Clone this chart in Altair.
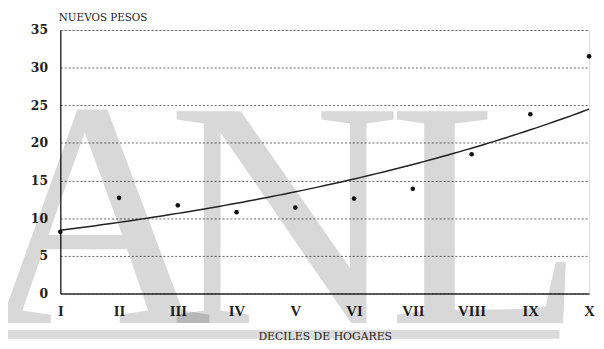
import altair as alt
import numpy as np
import pandas as pd

# Data
deciles = [1, 2, 3, 4, 5, 6, 7, 8, 9, 10]
decile_labels = ["I", "II", "III", "IV", "V", "VI", "VII", "VIII", "IX", "X"]
values = [8.2, 12.7, 11.7, 10.8, 11.4, 12.6, 13.9, 18.5, 23.8, 31.5]
y_ticks = [0, 5, 10, 15, 20, 25, 30, 35]
watermark_letters = ["A", "N", "L"]

df = pd.DataFrame({"decil": deciles, "valor": values})

# Exponential trend line (least squares on log values, as a spreadsheet trendline)
b, a = np.polyfit(np.array(deciles, float), np.log(values), 1)
xs = np.linspace(1, 10, 91)
trend_df = pd.DataFrame({"decil": xs, "valor": np.exp(a + b * xs)})

label_array = "[" + ",".join(f"'{s}'" for s in decile_labels) + "]"

x_enc = alt.X(
    "decil:Q",
    scale=alt.Scale(domain=[1, 10], nice=False, zero=False),
    axis=alt.Axis(
        values=deciles,
        labelExpr=f"{label_array}[datum.value - 1]",
        title="DECILES DE HOGARES",
        titleFont="DejaVu Serif",
        titleFontSize=11,
        titleFontWeight="normal",
        titleColor="#222",
        titlePadding=13,
        labelFont="Liberation Serif",
        labelFontSize=15,
        labelFontWeight="bold",
        labelColor="#222",
        labelPadding=10,
        labelFlush=False,
        labelOverlap=False,
        tickSize=0,
        grid=False,
        domainColor="#333",
        domainWidth=1.5,
    ),
)
y_enc = alt.Y(
    "valor:Q",
    scale=alt.Scale(domain=[0, 35], nice=False),
    axis=alt.Axis(
        values=y_ticks,
        title="NUEVOS PESOS",
        titleAngle=0,
        titleAlign="left",
        titleBaseline="middle",
        titleX=-2,
        titleY=-13,
        titleFont="DejaVu Serif",
        titleFontSize=10.5,
        titleFontWeight="normal",
        titleColor="#222",
        labelFont="DejaVu Serif",
        labelFontSize=12.5,
        labelFontWeight="bold",
        labelColor="#222",
        labelPadding=13,
        labelOverlap=False,
        tickSize=0,
        grid=True,
        gridColor="#666",
        gridDash=[2, 2],
        gridWidth=1,
        domainColor="#333",
        domainWidth=1.5,
    ),
)

# Scan watermark (decoration, not data)
wm_x = {"A": 35, "N": 227, "L": 432}
wm_layers = [
    alt.Chart(df)
    .transform_filter("datum.decil == 1")
    .mark_text(
        font="Liberation Serif",
        fontSize=328,
        baseline="alphabetic",
        align="center",
        color="#000",
        opacity=0.15,
        text=letter,
    )
    .encode(x=alt.value(wm_x[letter]), y=alt.value(297))
    for letter in watermark_letters
]
wm_bar = (
    alt.Chart(df)
    .transform_filter("datum.decil == 1")
    .mark_rect(color="#000", opacity=0.14)
    .encode(x=alt.value(-61), x2=alt.value(506), y=alt.value(304), y2=alt.value(313))
)

points = alt.Chart(df).mark_circle(size=22, color="#111", opacity=1).encode(x=x_enc, y=y_enc)

trend = (
    alt.Chart(trend_df)
    .mark_line(color="#222", strokeWidth=1.5)
    .encode(x=x_enc, y=y_enc)
)

chart = (
    alt.layer(points, *wm_layers, wm_bar, trend)
    .properties(
        width=536,
        height=267,
        autosize=alt.AutoSizeParams(type="none"),
        padding={"left": 53, "top": 20, "right": 7, "bottom": 52},
    )
    .configure_view(stroke="#333", strokeWidth=1.5)
    .configure(background="white")
)

chart.save("out.html", embed_options={"renderer": "svg", "actions": False})
